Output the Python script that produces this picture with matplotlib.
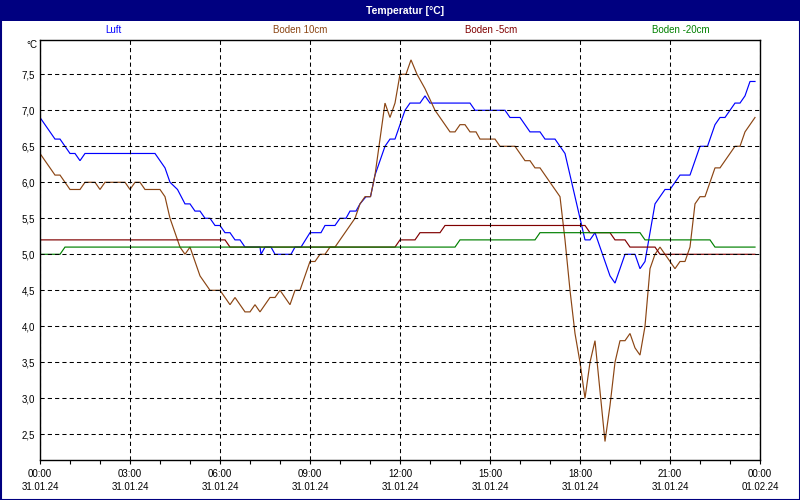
import matplotlib
matplotlib.use("Agg")
import matplotlib.pyplot as plt
from matplotlib.patches import Rectangle
from matplotlib.ticker import MultipleLocator, FixedLocator

# ---------------- data (minutes since 31.01.24 00:00, °C) ----------------
luft_t = [0, 30, 40, 60, 70, 80, 90, 230, 250, 260, 275, 290, 300, 310, 320, 330, 340,
          350, 360, 370, 380, 390, 400, 410, 440, 442, 450, 462, 470, 502, 510, 522,
          540, 562, 570, 590, 600, 612, 620, 632, 640, 652, 661, 670, 680, 690, 700,
          710, 720, 730, 740, 760, 770, 780, 860, 870, 930, 940, 960, 980, 1000, 1010,
          1030, 1040, 1050, 1060, 1070, 1080, 1090, 1100, 1110, 1120, 1130, 1140, 1150,
          1160, 1170, 1190, 1200, 1210, 1220, 1230, 1240, 1250, 1260, 1280, 1300, 1310,
          1320, 1335, 1350, 1360, 1370, 1390, 1400, 1410, 1420, 1430]
luft_v = [6.9, 6.6, 6.6, 6.4, 6.4, 6.3, 6.4, 6.4, 6.2, 6.0, 5.9, 5.7, 5.7, 5.6, 5.6, 5.5, 5.5,
          5.4, 5.4, 5.3, 5.3, 5.2, 5.2, 5.1, 5.1, 5.0, 5.1, 5.1, 5.0, 5.0, 5.1, 5.1,
          5.3, 5.3, 5.4, 5.4, 5.5, 5.5, 5.6, 5.6, 5.7, 5.8, 5.8, 6.1, 6.3, 6.5, 6.6,
          6.6, 6.8, 7.0, 7.1, 7.1, 7.2, 7.1, 7.1, 7.0, 7.0, 6.9, 6.9, 6.7, 6.7, 6.6,
          6.6, 6.5, 6.4, 6.1, 5.8, 5.5, 5.2, 5.2, 5.3, 5.1, 4.9, 4.7, 4.6,
          4.8, 5.0, 5.0, 4.8, 4.9, 5.3, 5.7, 5.8, 5.9, 5.9, 6.1, 6.1, 6.3,
          6.5, 6.5, 6.8, 6.9, 6.9, 7.1, 7.1, 7.2, 7.4, 7.4]

boden10_t = [0, 30, 40, 60, 80, 90, 110, 120, 130, 170, 180, 190, 200, 210, 240, 250, 260,
             270, 280, 290, 300, 310, 320, 330, 340, 360, 380, 390, 410, 420, 430, 440,
             460, 470, 480, 500, 510, 520, 540, 550, 560, 570, 580, 590, 610, 630, 640,
             650, 661, 670, 680, 690, 700, 710, 720, 732, 742, 754, 770, 790, 820, 830,
             840, 850, 860, 872, 880, 910, 920, 950, 970, 980, 990, 1000, 1010, 1020,
             1030, 1040, 1050, 1060, 1070, 1080, 1090, 1100, 1110, 1120, 1130, 1140,
             1150, 1160, 1170, 1180, 1190, 1200, 1210, 1220, 1230, 1240, 1260, 1270,
             1280, 1290, 1300, 1310, 1320, 1330, 1350, 1360, 1390, 1400, 1410, 1420, 1430]
boden10_v = [6.4, 6.1, 6.1, 5.9, 5.9, 6.0, 6.0, 5.9, 6.0, 6.0, 5.9, 6.0, 6.0, 5.9, 5.9, 5.8, 5.5,
             5.3, 5.1, 5.0, 5.1, 4.9, 4.7, 4.6, 4.5, 4.5, 4.3, 4.4, 4.2, 4.2, 4.3, 4.2,
             4.4, 4.4, 4.5, 4.3, 4.5, 4.5, 4.9, 4.9, 5.0, 5.0, 5.1, 5.1, 5.3, 5.5, 5.7,
             5.8, 5.8, 6.1, 6.6, 7.1, 6.9, 7.1, 7.5, 7.5, 7.7, 7.5, 7.3, 7.0, 6.7, 6.7,
             6.8, 6.8, 6.7, 6.7, 6.6, 6.6, 6.5, 6.5, 6.3, 6.3, 6.2, 6.2, 6.1, 6.0,
             5.9, 5.8, 5.2, 4.5, 3.9, 3.5, 3.0, 3.5, 3.8, 3.1, 2.4, 2.9,
             3.5, 3.8, 3.8, 3.9, 3.7, 3.6, 4.0, 4.8, 5.0, 5.1, 4.9, 4.8,
             4.9, 4.9, 5.1, 5.7, 5.8, 5.8, 6.2, 6.2, 6.5, 6.5, 6.7, 6.8, 6.9]

boden5_t = [0, 370, 380, 710, 720, 750, 760, 800, 810, 1090, 1100, 1140, 1150, 1170,
            1180, 1230, 1240, 1430]
boden5_v = [5.2, 5.2, 5.1, 5.1, 5.2, 5.2, 5.3, 5.3, 5.4, 5.4, 5.3, 5.3, 5.2, 5.2,
            5.1, 5.1, 5.0, 5.0]

boden20_t = [0, 40, 50, 830, 840, 990, 1000, 1200, 1210, 1340, 1350, 1430]
boden20_v = [5.0, 5.0, 5.1, 5.1, 5.2, 5.2, 5.3, 5.3, 5.2, 5.2, 5.1, 5.1]

series_names = ["Luft", "Boden 10cm", "Boden -5cm", "Boden -20cm"]
series_colors = ["#0000FF", "#8B4513", "#800000", "#008000"]

x_tick_hours = [0, 3, 6, 9, 12, 15, 18, 21, 24]
x_tick_labels = ["00:00\n31.01.24", "03:00\n31.01.24", "06:00\n31.01.24", "09:00\n31.01.24",
                 "12:00\n31.01.24", "15:00\n31.01.24", "18:00\n31.01.24", "21:00\n31.01.24",
                 "00:00\n01.02.24"]
y_ticks = [2.5, 3.0, 3.5, 4.0, 4.5, 5.0, 5.5, 6.0, 6.5, 7.0, 7.5]
title = "Temperatur [°C]"
unit = "°C"

# ---------------- figure ----------------
W, H = 800, 500
fig = plt.figure(figsize=(8, 5), dpi=100)
fig.patch.set_facecolor("white")
NAVY = "#000080"
FONT = "Liberation Sans"

# title bar
fig.add_artist(Rectangle((0, 1 - 21 / H), 1, 21 / H, transform=fig.transFigure,
                         facecolor=NAVY, edgecolor="none", zorder=0))
# outer border
fig.add_artist(Rectangle((0.5 / W, 0.5 / H), 1 - 1.0 / W, 1 - 1.0 / H, transform=fig.transFigure,
                         facecolor="none", edgecolor=NAVY, linewidth=1.5, zorder=10))
fig.text(405 / W, 1 - 10.5 / H, title, color="white", fontsize=7.5, fontweight="bold",
         family=FONT, ha="center", va="center")

legend_x = [113, 300, 491, 681]
for name, col, lx in zip(series_names, series_colors, legend_x):
    fig.text(lx / W, 1 - 30 / H, name, color=col, fontsize=7, family=FONT,
             ha="center", va="center")

ax = fig.add_axes([40 / W, 40 / H, 720 / W, 420 / H])
ax.set_facecolor("white")

data = [(luft_t, luft_v), (boden10_t, boden10_v), (boden5_t, boden5_v), (boden20_t, boden20_v)]
for (t, v), col in zip(data, series_colors):
    ax.plot([m / 60 for m in t], v, color=col, linewidth=0.85, solid_joinstyle="miter", zorder=2)

ax.set_xlim(0, 24)
ax.set_ylim(2.143, 7.976)

ax.xaxis.set_major_locator(FixedLocator(x_tick_hours))
ax.set_xticklabels(x_tick_labels, family=FONT, fontsize=7, linespacing=1.4)
ax.xaxis.set_minor_locator(MultipleLocator(1))
ax.tick_params(axis="x", which="both", direction="out", length=3, width=0.8, pad=3.5,
               colors="black")
ax.set_yticks(y_ticks)
ax.set_yticklabels([f"{y:.1f}".replace(".", ",") for y in y_ticks], family=FONT, fontsize=7)
ax.tick_params(axis="y", which="both", length=0, pad=3.5)

ax.set_axisbelow(False)
ax.grid(True, which="major", color="black", linewidth=0.75, linestyle=(0, (4, 3)))
for s in ax.spines.values():
    s.set_color("black")
    s.set_linewidth(1.0)

fig.text(37 / W, 1 - 45 / H, unit, fontsize=7, family=FONT, ha="right", va="center")

fig.savefig("out.png", dpi=100, facecolor="white")
